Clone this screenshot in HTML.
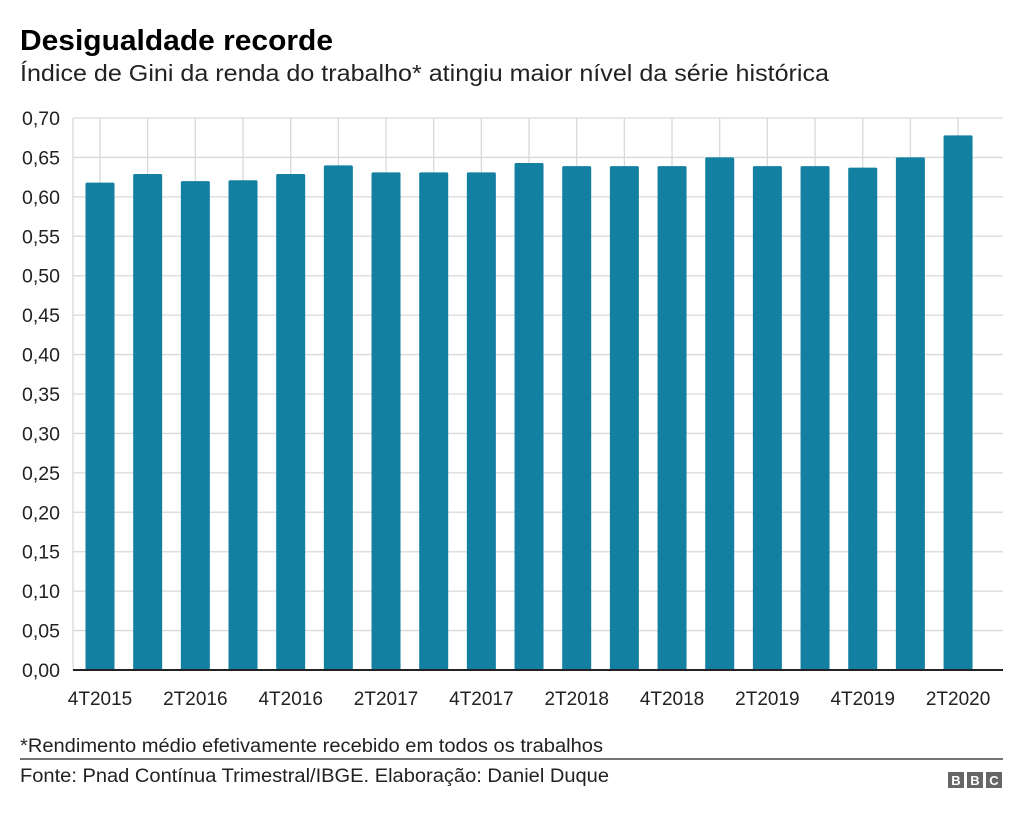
<!DOCTYPE html>
<html><head><meta charset="utf-8"><style>
body{margin:0;background:#fff;width:1024px;height:814px;overflow:hidden;font-family:"Liberation Sans",Arial,sans-serif;}
</style></head><body>
<svg width="1024" height="814" xmlns="http://www.w3.org/2000/svg" font-family="Liberation Sans, Arial, sans-serif">
<text x="20" y="50" font-size="29" font-weight="bold" fill="#000" textLength="313" lengthAdjust="spacingAndGlyphs">Desigualdade recorde</text>
<text x="20" y="81" font-size="23" fill="#222" textLength="809" lengthAdjust="spacingAndGlyphs">Índice de Gini da renda do trabalho* atingiu maior nível da série histórica</text>
<g id="grid" stroke="#d9d9d9" stroke-width="1.3"></g>
<g id="bars" fill="#1380a1"></g>
<g id="ylab" font-size="19.5" fill="#222" text-anchor="end"></g>
<g id="xlab" font-size="19" fill="#222" text-anchor="middle"></g>
<line x1="73" y1="670" x2="1003" y2="670" stroke="#222" stroke-width="2"/>
<text x="20" y="752" font-size="19" fill="#222" textLength="583" lengthAdjust="spacingAndGlyphs">*Rendimento médio efetivamente recebido em todos os trabalhos</text>
<line x1="20" y1="759" x2="1003" y2="759" stroke="#222" stroke-width="1.3"/>
<text x="20" y="782" font-size="19" fill="#222" textLength="589" lengthAdjust="spacingAndGlyphs">Fonte: Pnad Contínua Trimestral/IBGE. Elaboração: Daniel Duque</text>
<g font-size="13" font-weight="bold" fill="#fff" text-anchor="middle">
<rect x="948" y="772" width="16" height="16" fill="#666"/><text x="956" y="785">B</text>
<rect x="967" y="772" width="16" height="16" fill="#666"/><text x="975" y="785">B</text>
<rect x="986" y="772" width="16" height="16" fill="#666"/><text x="994" y="785">C</text>
</g>
</svg>
<script>
const ns="http://www.w3.org/2000/svg";
const g=document.getElementById('grid'),b=document.getElementById('bars'),yl=document.getElementById('ylab'),xl=document.getElementById('xlab');
function el(p,t,a,txt){const e=document.createElementNS(ns,t);for(const k in a)e.setAttribute(k,a[k]);if(txt)e.textContent=txt;p.appendChild(e);}
const y0=670,ppu=(670-118)/0.70;
for(let i=0;i<=14;i++){const y=y0-i*0.05*ppu;el(g,'line',{x1:73,x2:1003,y1:y,y2:y});el(yl,'text',{x:60,y:y+7},(i*0.05).toFixed(2).replace('.',','));}
el(g,'line',{x1:73,x2:73,y1:118,y2:670});
const v=[0.618,0.629,0.620,0.621,0.629,0.640,0.631,0.631,0.631,0.643,0.639,0.639,0.639,0.650,0.639,0.639,0.637,0.650,0.678];
const labs=['4T2015','2T2016','4T2016','2T2017','4T2017','2T2018','4T2018','2T2019','4T2019','2T2020'];
v.forEach((d,i)=>{const c=100+i*47.67;el(g,'line',{x1:c,x2:c,y1:118,y2:670});});
v.forEach((d,i)=>{const c=100+i*47.67,h=d*ppu;el(b,'rect',{x:c-14.5,y:y0-h,width:29,height:h,rx:1.5});if(i%2==0)el(xl,'text',{x:c,y:705},labs[i/2]);});
</script>
</body></html>
